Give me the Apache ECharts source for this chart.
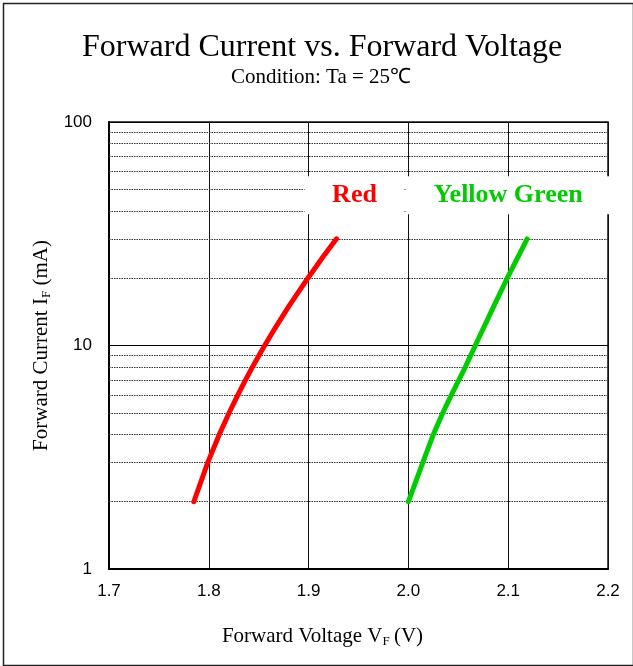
<!DOCTYPE html>
<html><head><meta charset="utf-8">
<script src="https://cdn.jsdelivr.net/npm/echarts@6/dist/echarts.min.js"></script>
<style>html,body{margin:0;padding:0;background:#fff}#c{width:633px;height:666px}</style>
</head><body><div id="c"></div>
<script>
const redVoltage   = [1.785, 1.799, 1.8105, 1.8204, 1.829, 1.8367, 1.8437, 1.8501, 1.856, 1.8666, 1.8803, 1.8992, 1.9147, 1.928];
const redCurrent   = [2, 3, 4, 5, 6, 7, 8, 9, 10, 12, 15, 20, 25, 30];
const ygVoltage    = [2.000, 2.0145, 2.025, 2.0345, 2.043, 2.0505, 2.057, 2.067, 2.0856, 2.099, 2.110, 2.119];
const ygCurrent    = [2, 3, 4, 5, 6, 7, 8, 10, 15, 20, 25, 30];
const minorCurrents = [2, 3, 4, 5, 6, 7, 8, 9, 20, 30, 40, 50, 60, 70, 80, 90];
const xTicks = ['1.7', '1.8', '1.9', '2.0', '2.1', '2.2'];
const yTicks = ['1', '10', '100'];
const seriesNames = ['Red', 'Yellow Green'];
const redLabelAt = [1.946, 47];
const ygLabelAt = [2.1, 47];

const chart = echarts.init(document.getElementById('c'), null, {renderer: 'canvas'});
const serif = 'Liberation Serif';
const sans = 'Liberation Sans';

chart.setOption({
  animation: false,
  backgroundColor: '#fff',
  title: [
    {text: 'Forward Current vs. Forward Voltage', left: 77, top: 27,
     textStyle: {fontFamily: serif, fontSize: 32, fontWeight: 'normal', color: '#000'}},
    {text: 'Condition: Ta = 25\u2103', left: 226, top: 62,
     textStyle: {fontFamily: serif, fontSize: 21, fontWeight: 'normal', color: '#000'}}
  ],
  graphic: [{type: 'rect', left: 1, top: 1, shape: {x: 0, y: 0, width: 630, height: 662},
    style: {fill: 'none', stroke: '#222', lineWidth: 1.5}, silent: true}],
  grid: {left: 109, right: 25, top: 122, bottom: 97, show: true, borderColor: '#111', borderWidth: 1.5, backgroundColor: 'transparent'},
  xAxis: {
    type: 'value', min: 1.7, max: 2.2, interval: 0.1,
    axisLine: {show: true, onZero: false, lineStyle: {color: '#000', width: 2}},
    axisTick: {show: false},
    splitLine: {show: true, lineStyle: {color: '#111', width: 1}},
    axisLabel: {margin: 14, fontFamily: sans, fontSize: 17, color: '#000',
      formatter: v => xTicks[Math.round((v - 1.7) * 10)] || ''},
    name: 'Forward Voltage V{sub|F}\u2009(V)', nameLocation: 'middle', nameGap: 56,
    nameTextStyle: {fontFamily: serif, fontSize: 21, color: '#000', padding: [0, 72, 0, 0],
      rich: {sub: {fontFamily: serif, fontSize: 13, color: '#000', verticalAlign: 'bottom', padding: [10, 0, 0, 0]}}}
  },
  yAxis: {
    type: 'log', logBase: 10, min: 1, max: 100,
    axisLine: {show: true, lineStyle: {color: '#000', width: 2}},
    axisTick: {show: false},
    splitLine: {show: true, lineStyle: {color: '#000', width: 1}},
    axisLabel: {margin: 17, fontFamily: sans, fontSize: 17, color: '#000',
      formatter: v => { const i = Math.round(Math.log10(v)); return yTicks[i] || ''; }},
    name: 'Forward Current I{sub|F} (mA)', nameLocation: 'middle', nameGap: 55,
    nameTextStyle: {fontFamily: serif, fontSize: 21, color: '#000',
      rich: {sub: {fontFamily: serif, fontSize: 13, color: '#000', verticalAlign: 'bottom', padding: [10, 0, 0, 0]}}}
  },
  series: [
    {
      name: seriesNames[0], type: 'line', smooth: false, showSymbol: false, z: 5,
      data: redVoltage.map((v, i) => [v, redCurrent[i]]),
      lineStyle: {color: '#ff0000', width: 5, cap: 'round', join: 'round'},
      markLine: {
        silent: true, symbol: 'none', z: 1, animation: false,
        label: {show: false},
        lineStyle: {color: '#333', width: 1, type: [1.5, 1]},
        data: minorCurrents.map(c => ({yAxis: c}))
      },
      markPoint: {
        silent: true, symbol: 'rect', symbolSize: 0, z: 10,
        data: [
          {coord: redLabelAt, label: {show: true, formatter: seriesNames[0], position: 'inside',
            fontFamily: serif, fontWeight: 'bold', fontSize: 26, color: '#ff0000',
            backgroundColor: '#fff', width: 100, height: 38, lineHeight: 38, align: 'center', verticalAlign: 'middle'}},
          {coord: ygLabelAt, label: {show: true, formatter: seriesNames[1], position: 'inside',
            fontFamily: serif, fontWeight: 'bold', fontSize: 26, color: '#00cc00',
            backgroundColor: '#fff', width: 204, height: 38, lineHeight: 38, align: 'center', verticalAlign: 'middle'}}
        ]
      }
    },
    {
      name: seriesNames[1], type: 'line', smooth: false, showSymbol: false, z: 5,
      data: ygVoltage.map((v, i) => [v, ygCurrent[i]]),
      lineStyle: {color: '#00cc00', width: 5, cap: 'round', join: 'round'}
    }
  ]
});
</script>
</body></html>
